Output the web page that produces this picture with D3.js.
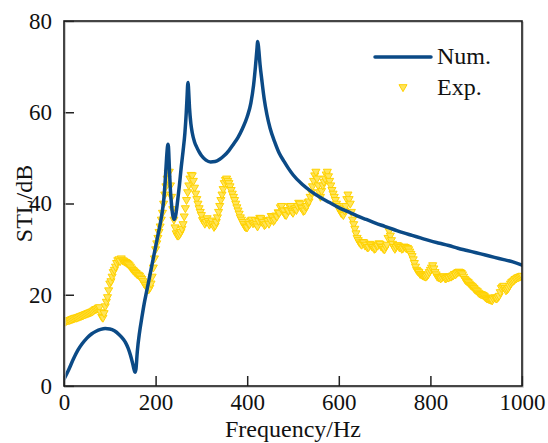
<!DOCTYPE html>
<html>
<head>
<meta charset="utf-8">
<script src="https://cdn.jsdelivr.net/npm/d3@7/dist/d3.min.js"></script>
<style>
  html, body { margin: 0; padding: 0; background: #fff; }
  svg { display: block; font-family: "Liberation Serif", "Times New Roman", serif; }
</style>
</head>
<body>
<svg id="chart" width="548" height="443"></svg>
<script>
// Numerical transmission loss (frequency in Hz, STL in dB)
const numFreq = [0,10,20,30,40,50,60,70,80,90,100,110,120,130,135,140,145,150,153,155,157,160,165,170,175,180,185,190,195,200,205,210,215,218,221,224,226,227,228,230,232,235,238,241,244,248,252,256,260,264,267,269,270,271,272,274,277,280,285,290,295,300,310,320,330,340,350,360,370,380,390,400,408,414,418,421,423,425,428,432,437,443,450,460,470,480,490,500,520,540,560,580,600,620,640,660,680,700,720,740,760,780,800,820,840,860,880,900,920,940,960,980,1000];
const numSTL = [1.5,3.5,5.8,7.8,9.3,10.5,11.4,12.0,12.4,12.6,12.5,12.1,11.3,10.2,9.4,8.3,6.8,4.9,3.6,3.0,3.6,7.5,11.8,15.0,18.0,20.5,23.0,25.5,28.0,30.5,33.0,35.5,38.5,41.0,45.0,50.0,52.5,53.0,52.5,48.0,43.5,39.5,37.2,36.5,37.5,40.5,44.0,48.0,51.5,55.5,60.0,64.0,66.0,66.5,65.0,61.0,57.5,55.5,53.5,52.3,51.3,50.5,49.5,49.1,49.2,49.7,50.5,51.6,53.0,54.5,56.5,59.0,62.0,66.0,70.0,73.5,75.5,74.0,70.5,67.0,63.0,59.5,56.5,53.5,51.0,49.3,47.7,46.3,44.2,42.6,41.3,40.2,39.1,38.2,37.3,36.5,35.7,35.0,34.3,33.6,33.0,32.4,31.8,31.3,30.8,30.2,29.7,29.2,28.7,28.2,27.7,27.2,26.5];

// Measured transmission loss, sampled every 2.5 Hz from 0 to 1000 Hz
const expStep = 2.5;
const expSTL = [
  // 0 - 97.5 Hz
  14.2,14.1,14.3,14.4,14.5,14.5,14.6,14.7,14.8,14.9,15.0,15.0,15.1,15.2,15.3,15.4,15.5,15.6,15.7,15.8,
  15.9,16.0,16.1,16.2,16.3,16.4,16.6,16.8,16.9,17.0,17.2,17.3,16.2,15.2,15.0,16.0,17.5,18.5,19.5,21.0,
  // 100 - 197.5 Hz
  22.5,23.0,24.0,25.0,25.5,26.2,27.0,27.6,27.8,27.4,28.0,27.6,27.5,27.3,27.2,27.0,26.8,26.5,26.2,25.8,
  25.5,25.3,25.0,24.8,24.5,24.4,24.2,23.8,23.5,23.0,22.5,22.2,21.8,21.4,21.2,21.6,22.5,24.0,26.0,28.0,
  // 200 - 297.5 Hz
  30.0,31.3,32.5,33.8,35.0,36.5,38.0,40.0,42.0,43.8,45.5,46.8,47.0,44.0,41.5,38.8,36.5,34.8,33.5,33.0,
  33.0,33.3,33.8,34.5,35.5,37.2,39.0,40.8,42.5,44.0,45.5,46.3,46.2,45.0,43.5,42.2,41.0,40.0,39.0,38.2,
  // 300 - 397.5 Hz
  37.5,36.4,36.5,35.6,36.0,36.8,36.2,35.4,35.8,36.3,35.5,34.9,35.2,36.0,37.0,38.2,39.5,40.8,42.0,43.2,
  44.5,45.2,45.5,45.0,44.5,43.8,43.0,42.2,41.5,40.8,40.0,39.2,38.5,37.8,37.0,36.5,36.0,35.5,35.0,34.8,
  // 400 - 497.5 Hz
  34.8,35.6,35.5,36.3,36.5,35.7,35.8,36.4,35.5,35.0,36.2,36.9,36.8,36.0,36.0,35.3,35.5,36.4,36.2,35.6,
  36.5,37.3,37.0,36.2,36.5,37.4,37.2,38.1,38.0,39.2,39.5,38.4,38.5,37.6,37.5,38.6,38.5,39.4,39.5,38.3,
  // 500 - 597.5 Hz
  38.0,38.9,39.0,38.6,39.5,40.2,40.0,39.2,39.0,38.4,38.5,39.4,39.5,40.3,40.5,41.5,42.5,43.8,45.0,46.2,
  47.0,45.5,44.0,42.5,41.5,42.8,44.0,44.8,45.5,46.4,47.0,46.0,45.0,44.0,43.0,42.2,41.5,40.8,40.0,39.5,
  // 600 - 697.5 Hz
  39.0,38.5,38.0,37.8,37.5,38.5,39.5,41.0,42.0,41.0,40.0,38.2,36.5,35.5,34.5,33.5,32.5,32.0,31.5,31.2,
  31.0,31.6,31.5,30.8,31.0,30.4,30.5,31.2,31.0,30.6,30.5,30.1,30.2,30.8,30.8,31.3,31.2,30.6,30.5,30.1,
  // 700 - 797.5 Hz
  30.0,30.6,31.0,32.5,34.0,33.0,32.0,31.2,30.5,30.1,30.5,30.9,30.8,30.4,30.5,30.1,30.2,30.6,30.5,30.2,
  30.3,30.0,29.5,29.0,28.5,27.8,27.0,26.2,25.5,25.2,25.0,24.6,24.5,24.3,24.2,24.1,24.0,24.2,24.5,25.0,
  // 800 - 897.5 Hz
  25.5,26.0,26.5,25.8,25.0,24.5,24.0,23.9,23.8,23.6,23.8,24.1,24.0,23.6,23.7,23.9,23.8,24.1,24.0,24.2,
  24.3,24.6,24.5,24.8,25.0,25.1,25.0,24.8,24.5,24.0,23.5,23.2,23.0,22.8,22.5,22.2,22.0,21.8,21.5,21.2,
  // 900 - 1000 Hz
  21.0,20.8,20.5,20.3,20.2,20.1,20.0,19.8,19.5,19.3,19.2,19.1,19.0,18.9,18.8,19.2,19.5,19.3,19.2,19.5,
  19.8,20.6,21.5,21.8,22.0,21.5,21.0,21.2,21.5,22.0,22.5,22.8,23.0,23.2,23.5,23.6,23.8,23.9,24.0,24.1,
  24.2
];

const xTicks = [0, 200, 400, 600, 800, 1000];
const yTicks = [0, 20, 40, 60, 80];
const seriesNames = ["Num.", "Exp."];

const numColor = "#0b4a86";
const expFill = "#ffe45c";
const expStroke = "#ffd200";

const svg = d3.select("#chart");
const plot = { left: 64, right: 522, top: 21, bottom: 386 };

const x = d3.scaleLinear().domain([0, 1000]).range([plot.left, plot.right]);
const y = d3.scaleLinear().domain([0, 80]).range([plot.bottom, plot.top]);

const fontSize = 23;
const titleSize = 24;
const serif = "Liberation Serif, Times New Roman, serif";

// Y axis with inward ticks
const yAxis = svg.append("g")
  .attr("transform", `translate(${plot.left},0)`)
  .call(d3.axisLeft(y).tickValues(yTicks).tickFormat(d3.format("d"))
    .tickSizeInner(-10).tickSizeOuter(0).tickPadding(12));
yAxis.attr("font-family", serif).attr("font-size", fontSize);
yAxis.select(".domain").remove();
yAxis.selectAll(".tick line").attr("stroke", "#222").attr("stroke-width", 1.5);
yAxis.selectAll(".tick text").attr("fill", "#111");

// X axis with inward ticks
const xAxis = svg.append("g")
  .attr("transform", `translate(0,${plot.bottom})`)
  .call(d3.axisBottom(x).tickValues(xTicks).tickFormat(d3.format("d"))
    .tickSizeInner(-10).tickSizeOuter(0).tickPadding(8));
xAxis.attr("font-family", serif).attr("font-size", fontSize);
xAxis.select(".domain").remove();
xAxis.selectAll(".tick line").attr("stroke", "#222").attr("stroke-width", 1.5);
xAxis.selectAll(".tick text").attr("fill", "#111");

// Clip marks to the plotting frame
svg.append("clipPath").attr("id", "plotClip")
  .append("rect")
  .attr("x", plot.left).attr("y", plot.top)
  .attr("width", plot.right - plot.left).attr("height", plot.bottom - plot.top);

// Downward-pointing triangle marker
const tri = d3.symbol().type(d3.symbolTriangle).size(28);

const expData = expSTL.map((v, i) => ({ f: i * expStep, v }));
svg.append("g").attr("clip-path", "url(#plotClip)")
  .selectAll("path")
  .data(expData)
  .join("path")
  .attr("d", tri)
  .attr("transform", d => `translate(${x(d.f)},${y(d.v)}) rotate(180)`)
  .attr("fill", expFill)
  .attr("stroke", expStroke)
  .attr("stroke-width", 1);

const numData = numFreq.map((f, i) => ({ f, v: numSTL[i] }));
svg.append("path")
  .datum(numData)
  .attr("clip-path", "url(#plotClip)")
  .attr("fill", "none")
  .attr("stroke", numColor)
  .attr("stroke-width", 3.5)
  .attr("stroke-linejoin", "round")
  .attr("stroke-linecap", "round")
  .attr("d", d3.line().x(d => x(d.f)).y(d => y(d.v)).curve(d3.curveMonotoneX));

// Frame around the plot
svg.append("rect")
  .attr("x", plot.left + 1.2).attr("y", plot.top + 1.2)
  .attr("width", plot.right - plot.left).attr("height", plot.bottom - plot.top)
  .attr("fill", "none").attr("stroke", "#bbb").attr("stroke-width", 1);
svg.append("rect")
  .attr("x", plot.left).attr("y", plot.top)
  .attr("width", plot.right - plot.left).attr("height", plot.bottom - plot.top)
  .attr("fill", "none").attr("stroke", "#1a1a1a").attr("stroke-width", 1.6);

// Axis titles
svg.append("text")
  .attr("x", (plot.left + plot.right) / 2).attr("y", 437)
  .attr("text-anchor", "middle")
  .attr("font-family", serif).attr("font-size", titleSize).attr("fill", "#111")
  .text("Frequency/Hz");
svg.append("text")
  .attr("transform", `translate(32,${(plot.top + plot.bottom) / 2}) rotate(-90)`)
  .attr("text-anchor", "middle")
  .attr("font-family", serif).attr("font-size", titleSize).attr("fill", "#111")
  .text("STL/dB");

// Legend
const legend = svg.append("g").attr("font-family", serif).attr("font-size", titleSize);
legend.append("line")
  .attr("x1", 375).attr("x2", 431).attr("y1", 57).attr("y2", 57)
  .attr("stroke", numColor).attr("stroke-width", 3.5).attr("stroke-linecap", "round");
legend.append("text").attr("x", 437).attr("y", 64).attr("fill", "#111").text(seriesNames[0]);
legend.append("path")
  .attr("d", tri)
  .attr("transform", "translate(403,87) rotate(180)")
  .attr("fill", expFill).attr("stroke", expStroke).attr("stroke-width", 1);
legend.append("text").attr("x", 437).attr("y", 95).attr("fill", "#111").text(seriesNames[1]);
</script>
</body>
</html>
